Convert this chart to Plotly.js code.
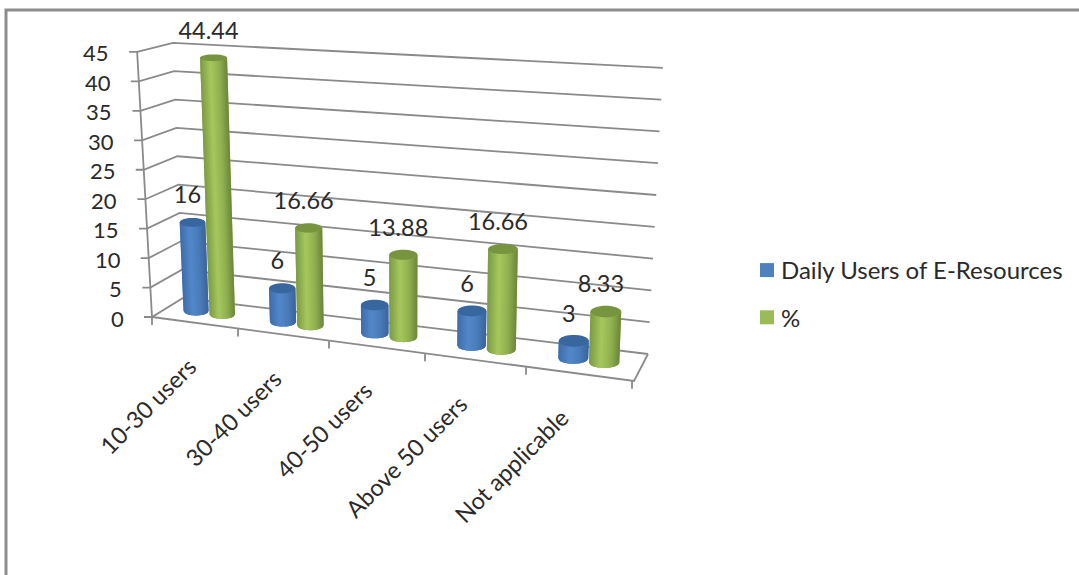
<!DOCTYPE html>
<html>
<head>
<meta charset="utf-8">
<script src="https://cdn.plot.ly/plotly-3.0.1.min.js"></script>
<style>
html,body{margin:0;padding:0;background:#fff}
#chart{width:1079px;height:575px}
#chart path{shape-rendering:geometricPrecision !important}
</style>
</head>
<body>
<div id="chart"></div>
<script>
// Chart content
const categories = ['10-30 users', '30-40 users', '40-50 users', 'Above 50 users', 'Not applicable'];
const dailyUsers = [16, 6, 5, 6, 3];
const percent = [44.44, 16.66, 13.88, 16.66, 8.33];
const valueTicks = [0, 5, 10, 15, 20, 25, 30, 35, 40, 45];
const seriesNames = ['Daily Users of E-Resources', '%'];

const FONT = 'Lato, sans-serif';
const INK = '#2a2a2a';
const GRID = '#8a8a8a';

// Oblique projection of the 3D box onto the flat plot area.
const floorFrontL = [152, 317], floorBackL = [183, 298];
const floorFrontR = [634, 381], floorBackR = [648, 354];
const frac = u => (86 * u + 2.5 * u * (u - 1)) / 482;   // foreshortening along the category axis
const mix = (a, b, t) => [a[0] + (b[0] - a[0]) * t, a[1] + (b[1] - a[1]) * t];
const floorPoint = (u, w) => mix(mix(floorFrontL, floorBackL, w), mix(floorFrontR, floorBackR, w), frac(u));
const frontWall = v => [152 - 0.33 * v, 317 - 5.89 * v];
const backLeft = v => [183 - 0.222 * v, 298 - 5.67 * v];
const backRight = v => [648 + 0.33 * v, 354 - 6.36 * v];

// One cylinder of a series, seen from the fixed camera.
function cylinder(cat, seriesIdx, value) {
  const [fx, by] = floorPoint(cat + (seriesIdx === 0 ? 0.345 : 0.655), 0.5);
  const bx = fx + cat * (seriesIdx === 0 ? 0.75 : 0.4);
  const k = 5.55 + 0.00095 * (bx - 196) + (seriesIdx === 0 ? 0 : 0.2);
  const lean = (bx - 410) * 0.00105;
  const width = 25 + 0.013 * (bx - 196);
  const topWidth = width * (1 + 0.0015 * value);
  const topRatio = 0.2 - 0.0017 * value;
  return {
    bx: bx, by: by, r: width / 2, ry: width * 0.175,
    tx: bx + lean * value, ty: by - k * value,
    tr: topWidth / 2, try_: topWidth * topRatio
  };
}

function hexLerp(stops, t) {
  let i = 0;
  while (i < stops.length - 2 && t > stops[i + 1][0]) i++;
  const [t0, c0] = stops[i], [t1, c1] = stops[i + 1];
  const f = Math.min(1, Math.max(0, (t - t0) / (t1 - t0)));
  const rgb = c0.map((c, j) => Math.round(c + (c1[j] - c) * f));
  return 'rgb(' + rgb.join(',') + ')';
}

const shading = [
  [[0, [62, 108, 168]], [0.38, [82, 136, 202]], [0.72, [72, 122, 184]], [1, [58, 100, 154]]],
  [[0, [124, 154, 68]], [0.38, [166, 200, 94]], [0.72, [142, 174, 78]], [1, [106, 134, 58]]]
];
const capColors = ['#38669f', '#77953f'];
const legendColors = ['#4f81bd', '#9bbb59'];
const STRIPS = 16;

const traces = [];

function line(xs, ys, width) {
  traces.push({ x: xs, y: ys, mode: 'lines', line: { color: GRID, width: width || 1.8 },
                hoverinfo: 'skip', showlegend: false });
}

function filled(xs, ys, color) {
  traces.push({ x: xs, y: ys, mode: 'lines', fill: 'toself', fillcolor: color,
                line: { width: 0, simplify: false }, hoverinfo: 'skip', showlegend: false });
}

// Gridlines on the side and back walls
valueTicks.forEach(v => {
  const f = frontWall(v), l = backLeft(v), r = backRight(v);
  line([f[0] - 8, f[0], l[0], r[0]], [f[1], f[1], l[1], r[1]]);
});

// Value axis edge, floor edge and category tick marks
line([frontWall(0)[0], frontWall(45)[0]], [frontWall(0)[1], frontWall(45)[1]]);
line([floorFrontL[0], floorFrontR[0], floorBackR[0]], [floorFrontL[1], floorFrontR[1], floorBackR[1]]);
categories.concat(['']).forEach((c, i) => {
  const p = floorPoint(i, 0);
  line([p[0], p[0]], [p[1], p[1] + 8]);
});

// Cylinders: blue series first so the green one sits in front of it.
// A plain silhouette goes down first, then slightly overlapping shade bands on top.
[dailyUsers, percent].forEach((vals, s) => {
  const cyls = vals.map((v, c) => cylinder(c, s, v));
  const bottomY = (c, q) => c.by + c.ry * Math.sqrt(Math.max(0, 1 - q * q));
  const topY = (c, q) => c.ty + c.try_ * Math.sqrt(Math.max(0, 1 - q * q));

  const sx = [], sy = [];
  cyls.forEach(c => {
    for (let i = 0; i <= 24; i++) {
      const q = -1 + i / 12;
      sx.push(c.bx + c.r * q); sy.push(bottomY(c, q));
    }
    sx.push(c.tx + c.tr, c.tx - c.tr, c.bx - c.r, null);
    sy.push(c.ty, c.ty, c.by, null);
  });
  filled(sx, sy, hexLerp(shading[s], 0.7));

  for (let k = 0; k < STRIPS; k++) {
    const xs = [], ys = [];
    const a = -1 + 2 * k / STRIPS;
    const b = Math.min(1, -1 + 2 * (k + 1.4) / STRIPS);
    cyls.forEach(c => {
      xs.push(c.bx + c.r * a, c.bx + c.r * b, c.tx + c.tr * b, c.tx + c.tr * a, c.bx + c.r * a, null);
      ys.push(bottomY(c, a), bottomY(c, b), topY(c, b), topY(c, a), bottomY(c, a), null);
    });
    filled(xs, ys, hexLerp(shading[s], (k + 0.5) / STRIPS));
  }

  const cx = [], cy = [];
  cyls.forEach(c => {
    for (let i = 0; i <= 40; i++) {
      const t = i / 40 * 2 * Math.PI;
      cx.push(c.tx + c.tr * Math.cos(t));
      cy.push(c.ty + c.try_ * Math.sin(t));
    }
    cx.push(null); cy.push(null);
  });
  filled(cx, cy, capColors[s]);
});

// Value labels above each cylinder
[dailyUsers, percent].forEach((vals, s) => {
  const cyls = vals.map((v, c) => cylinder(c, s, v));
  traces.push({
    x: cyls.map(c => c.tx - 5), y: cyls.map(c => c.ty - 25),
    text: vals.map(String), mode: 'text', textposition: 'middle center',
    textfont: { family: FONT, size: 23.5, color: INK },
    hoverinfo: 'skip', showlegend: false
  });
});

// Legend entries
seriesNames.forEach((name, s) => {
  traces.push({ x: [null], y: [null], name: name, mode: 'markers', legendgroup: 'g' + s,
                marker: { symbol: 'square', size: 14, color: legendColors[s] } });
});

// Value axis numbers follow the slanted wall edge
const annotations = [];
valueTicks.forEach(v => {
  const f = frontWall(v);
  annotations.push({ x: f[0] - 26, y: f[1] + 1, text: String(v), showarrow: false,
                     xanchor: 'right', yanchor: 'middle',
                     font: { family: FONT, size: 22, color: INK } });
});

// Category names end just below the floor edge; centre found from the measured text length
const LABEL_SIZE = 23.5;
const ruler = document.createElement('canvas').getContext('2d');
ruler.font = LABEL_SIZE + 'px Lato';
categories.forEach((c, i) => {
  const p = floorPoint(i + 0.5, 0);
  const half = ruler.measureText(c).width / 2 * Math.SQRT1_2;
  annotations.push({ x: p[0] - 3 - 3 * i - half, y: p[1] + 39.5 + half, text: c, showarrow: false,
                     textangle: -45, xanchor: 'center', yanchor: 'middle',
                     font: { family: FONT, size: LABEL_SIZE, color: INK } });
});

const layout = {
  width: 1079, height: 575,
  margin: { l: 0, r: 0, t: 0, b: 0, pad: 0 },
  paper_bgcolor: '#fff', plot_bgcolor: '#fff',
  xaxis: { range: [0, 1079], visible: false, fixedrange: true },
  yaxis: { range: [575, 0], visible: false, fixedrange: true },
  showlegend: true,
  legend: { x: 741 / 1079, y: 1 - 248 / 575, xanchor: 'left', yanchor: 'top', tracegroupgap: 13,
            font: { family: FONT, size: 24, color: INK }, bgcolor: 'rgba(0,0,0,0)' },
  annotations: annotations,
  // Chart frame, open at the right and bottom edges
  shapes: [{ type: 'path', xref: 'x', yref: 'y', path: 'M 6 575 L 6 10 L 1079 10',
             line: { color: '#8c8c8c', width: 3 } }]
};

Plotly.newPlot('chart', traces, layout, { displayModeBar: false, staticPlot: true }).then(() => {
  // Move the legend swatches closer to their text
  document.querySelectorAll('.legend .legendsymbols').forEach(n => n.setAttribute('transform', 'translate(6,0)'));
});
</script>
</body>
</html>
